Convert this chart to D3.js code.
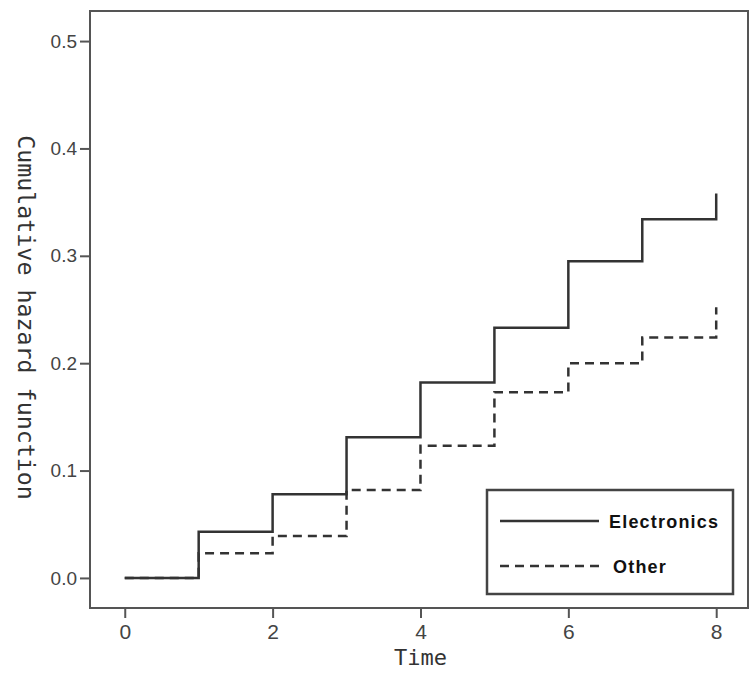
<!DOCTYPE html>
<html>
<head>
<meta charset="utf-8">
<script src="https://cdn.jsdelivr.net/npm/d3@7"></script>
<style>
  body { margin: 0; background: #fff; }
  .tick text { fill: #444; font-family: "Liberation Sans", Arial, sans-serif; }
  .tick line { stroke: #555; stroke-width: 2; }
</style>
</head>
<body>
<div id="chart"></div>
<script>
// time points (steps happen at each whole unit)
var times = [0, 1, 2, 3, 4, 5, 6, 7, 8];
// cumulative hazard
var electronics = [0, 0.043, 0.078, 0.131, 0.182, 0.233, 0.295, 0.334, 0.358];
var other = [0, 0.023, 0.039, 0.082, 0.123, 0.173, 0.200, 0.224, 0.252];
var seriesNames = ['Electronics', 'Other'];
var xTicks = [0, 2, 4, 6, 8];
var yTicks = [0, 0.1, 0.2, 0.3, 0.4, 0.5];

var width = 755, height = 673;
var plot = {left: 90, top: 11, right: 748, bottom: 608};

var svg = d3.select('#chart').append('svg')
  .attr('width', width)
  .attr('height', height);

var x = d3.scaleLinear().domain([-0.47, 8.43]).range([plot.left, plot.right]);
var y = d3.scaleLinear().domain([-0.028, 0.528]).range([plot.bottom, plot.top]);

//frame round the plot area
svg.append('rect')
  .attr('x', plot.left)
  .attr('y', plot.top)
  .attr('width', plot.right - plot.left)
  .attr('height', plot.bottom - plot.top)
  .attr('fill', 'none')
  .attr('stroke', '#555')
  .attr('stroke-width', 2);

var yAxis = svg.append('g')
  .attr('transform', 'translate(' + plot.left + ',0)')
  .call(d3.axisLeft(y).tickValues(yTicks).tickSize(10).tickPadding(3).tickFormat(d3.format('.1f')));
yAxis.select('.domain').remove();
yAxis.selectAll('text').style('font-size', '19px');

var xAxis = svg.append('g')
  .attr('transform', 'translate(0,' + plot.bottom + ')')
  .call(d3.axisBottom(x).tickValues(xTicks).tickSize(10).tickPadding(6).tickFormat(d3.format('d')));
xAxis.select('.domain').remove();
xAxis.selectAll('text').style('font-size', '21px');

// axis titles
svg.append('text')
  .attr('transform', 'translate(18,' + ((plot.top + plot.bottom) / 2 + 8) + ') rotate(90)')
  .attr('text-anchor', 'middle')
  .attr('font-family', '"DejaVu Sans Mono", monospace')
  .attr('font-size', 23.3)
  .attr('fill', '#333')
  .text('Cumulative hazard function');

svg.append('text')
  .attr('x', x(4))
  .attr('y', 665)
  .attr('text-anchor', 'middle')
  .attr('font-family', '"DejaVu Sans Mono", monospace')
  .attr('font-size', 22)
  .attr('fill', '#333')
  .text('Time');

var line = d3.line()
  .curve(d3.curveStepAfter)
  .x(function (d) { return x(d[0]); })
  .y(function (d) { return y(d[1]); });

var dashes = [null, '9,6'];
[electronics, other].forEach(function (values, i) {
  svg.append('path')
    .datum(times.map(function (t, j) { return [t, values[j]]; }))
    .attr('d', line)
    .attr('fill', 'none')
    .attr('stroke', '#333')
    .attr('stroke-width', 2.5)
    .attr('stroke-dasharray', dashes[i]);
});

//legend box
var legend = svg.append('g').attr('transform', 'translate(487,490)');
legend.append('rect')
  .attr('width', 246)
  .attr('height', 104)
  .attr('fill', '#fff')
  .attr('stroke', '#444')
  .attr('stroke-width', 2.5);

seriesNames.forEach(function (name, i) {
  var ly = 31 + i * 45;
  legend.append('line')
    .attr('x1', 13).attr('x2', 112)
    .attr('y1', ly).attr('y2', ly)
    .attr('stroke', '#333')
    .attr('stroke-width', 2.5)
    .attr('stroke-dasharray', dashes[i]);
  legend.append('text')
    .attr('x', 122 + i * 4)
    .attr('y', ly + 7)
    .attr('font-family', '"Liberation Sans", Arial, sans-serif')
    .attr('font-size', 18)
    .attr('font-weight', 'bold')
    .attr('letter-spacing', 1.2)
    .attr('fill', '#111')
    .text(name);
});
</script>
</body>
</html>
